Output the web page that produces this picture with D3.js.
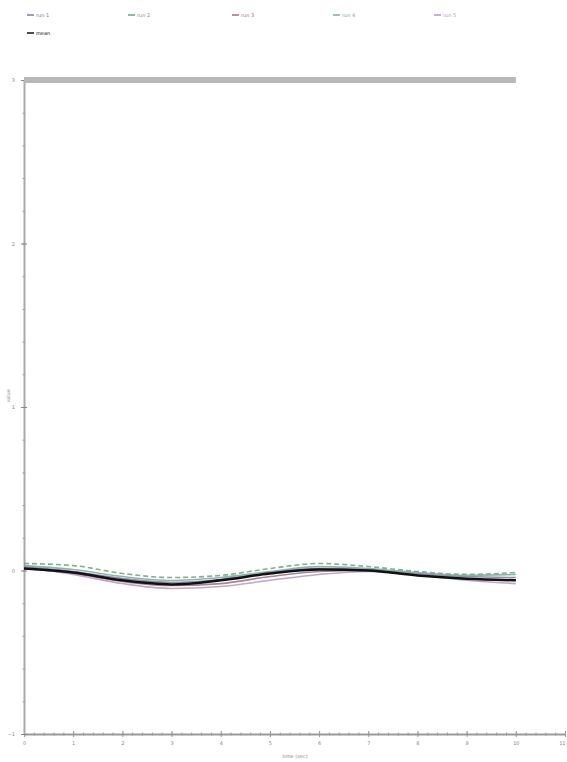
<!DOCTYPE html>
<html>
<head>
<meta charset="utf-8">
<script src="https://cdn.jsdelivr.net/npm/d3@7"></script>
<style>
  body { margin: 0; background: #fff; }
  text { font-family: "DejaVu Sans", sans-serif; }
</style>
</head>
<body>
<div id="chart"></div>
<script>
// sample times (sec)
let times = [0, 1, 2, 3, 4, 5, 6, 7, 8, 9, 10];

// series
let seriesNames = ["run 1", "run 2", "run 3", "run 4", "run 5", "mean"];
let seriesColors = ["#7c7c98", "#6fa56f", "#9a6f7c", "#7aa8a8", "#b896c0", "#111111"];
let seriesDash = [null, "5,3", null, null, null, null];
let run1 = [0.024, -0.006, -0.049, -0.073, -0.055, -0.012, 0.012, 0.006, -0.018, -0.037, -0.043];
let run2 = [0.043, 0.030, -0.018, -0.043, -0.030, 0.012, 0.043, 0.024, -0.006, -0.024, -0.012];
let run3 = [0.012, -0.018, -0.067, -0.092, -0.080, -0.037, -0.006, 0.000, -0.024, -0.049, -0.061];
let run4 = [0.030, 0.006, -0.037, -0.061, -0.043, -0.006, 0.024, 0.012, -0.012, -0.030, -0.024];
let run5 = [0.018, -0.024, -0.080, -0.110, -0.098, -0.060, -0.024, -0.006, -0.024, -0.060, -0.080];
let mean = [0.012, -0.012, -0.060, -0.085, -0.060, -0.018, 0.006, 0.000, -0.030, -0.050, -0.060];
let limit = [3, 3, 3, 3, 3, 3, 3, 3, 3, 3, 3];

let yTicks = [-1, 0, 1, 2, 3];
let xTicks = [0, 1, 2, 3, 4, 5, 6, 7, 8, 9, 10, 11];

let width = 567, height = 762;

let svg = d3.select("#chart").append("svg")
    .attr("width", width)
    .attr("height", height);

let x = d3.scaleLinear().domain([0, 11]).range([24, 565]);
let y = d3.scaleLinear().domain([-1, 3]).range([734, 80]);

// minor ticks
let xMinor = d3.range(0, 11.01, 0.2);
let yMinor = d3.range(-1, 3.01, 0.2);

svg.append("g")
    .attr("transform", "translate(0,734)")
    .call(d3.axisBottom(x).tickValues(xMinor).tickSize(3).tickFormat(""))
    .call(g => g.select(".domain").remove())
    .selectAll("line").attr("stroke", "#999").attr("transform", "translate(0,-1.5)");

svg.append("g")
    .attr("transform", "translate(24,0)")
    .call(d3.axisLeft(y).tickValues(yMinor).tickSize(3).tickFormat(""))
    .call(g => g.select(".domain").remove())
    .selectAll("line").attr("stroke", "#999").attr("transform", "translate(1.5,0)");

let xAxis = svg.append("g")
    .attr("transform", "translate(0,734)")
    .call(d3.axisBottom(x).tickValues(xTicks).tickSize(6).tickSizeOuter(0).tickFormat(d3.format("d")));
xAxis.selectAll("line").attr("stroke", "#999").attr("transform", "translate(0,-3)");
xAxis.select(".domain").attr("stroke", "#999").attr("stroke-width", 2);
xAxis.selectAll("text").attr("font-size", 5).attr("fill", "#888").attr("dy", "0.4em")
    .attr("text-anchor", d => d == 11 ? "end" : "middle");

let yAxis = svg.append("g")
    .attr("transform", "translate(24,0)")
    .call(d3.axisLeft(y).tickValues(yTicks).tickSize(6).tickSizeOuter(0).tickFormat(d3.format("d")));
yAxis.selectAll("line").attr("stroke", "#888").attr("transform", "translate(3,0)");
yAxis.select(".domain").attr("stroke", "#aaa").attr("stroke-width", 2);
yAxis.selectAll("text").attr("font-size", 5).attr("fill", "#888");

// axis labels
svg.append("text")
    .attr("x", 295).attr("y", 758)
    .attr("text-anchor", "middle")
    .attr("font-size", 5).attr("fill", "#888")
    .text("time (sec)");

svg.append("text")
    .attr("transform", "translate(10,396) rotate(-90)")
    .attr("text-anchor", "middle")
    .attr("font-size", 5).attr("fill", "#888")
    .text("value");

let line = d3.line()
    .x((d, i) => x(times[i]))
    .y(d => y(d))
    .curve(d3.curveMonotoneX);

// limit band at the top
svg.append("path")
    .attr("d", line(limit))
    .attr("fill", "none")
    .attr("stroke", "#b8b8b8")
    .attr("stroke-width", 6);

let allSeries = [run1, run2, run3, run4, run5, mean];
allSeries.forEach((s, i) => {
    svg.append("path")
        .attr("d", line(s))
        .attr("fill", "none")
        .attr("stroke", seriesColors[i])
        .attr("stroke-width", i == 5 ? 2.5 : 1.6)
        .attr("stroke-dasharray", seriesDash[i])
        .attr("opacity", i == 5 ? 1 : 0.85);
});

// legend
let legendPos = [[27, 15], [128, 15], [232, 15], [333, 15], [434, 15], [27, 33]];
let legend = svg.selectAll(".legend")
    .data(seriesNames)
    .enter()
    .append("g")
    .attr("class", "legend")
    .attr("transform", (d, i) => `translate(${legendPos[i][0]},${legendPos[i][1]})`);

legend.append("line")
    .attr("x1", 0).attr("x2", 7)
    .attr("y1", 0).attr("y2", 0)
    .attr("stroke", (d, i) => seriesColors[i])
    .attr("stroke-width", 1.5);

legend.append("text")
    .attr("x", 9).attr("y", 2)
    .attr("font-size", 5)
    .attr("fill", (d, i) => seriesColors[i])
    .text(d => d);
</script>
</body>
</html>
